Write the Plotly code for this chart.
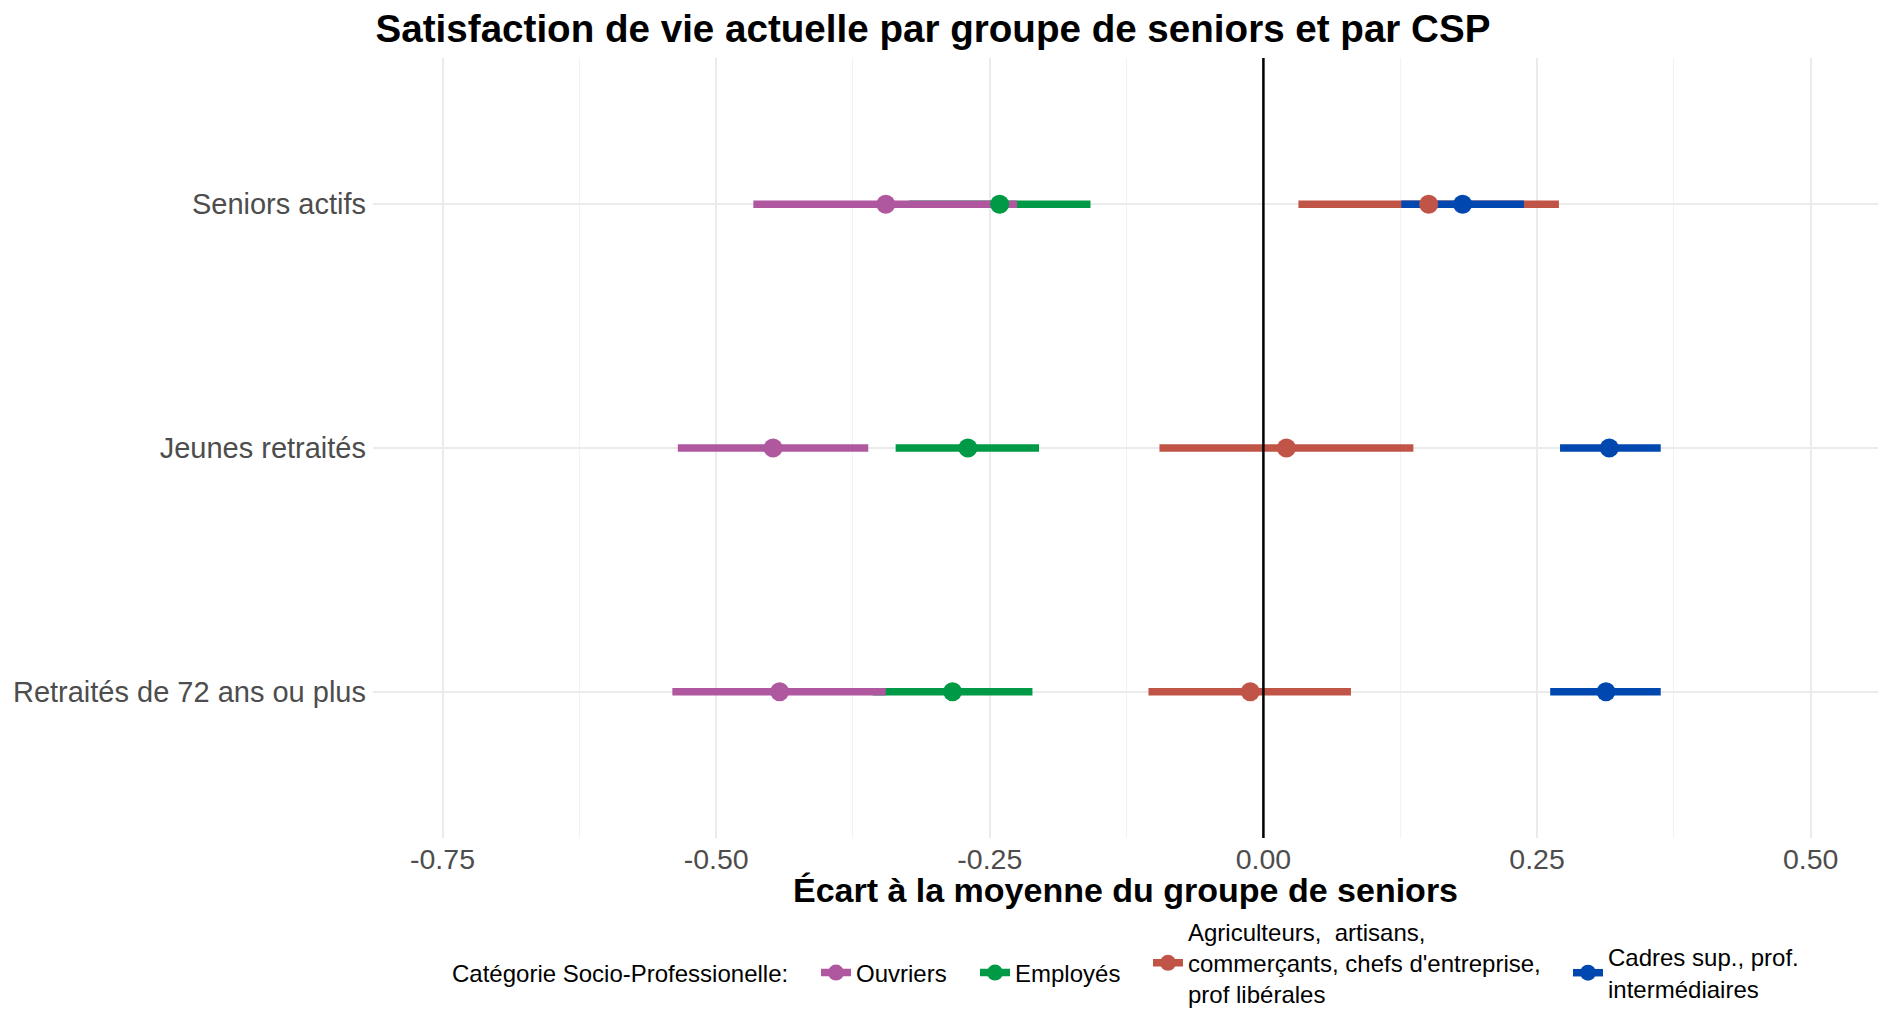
import plotly.graph_objects as go

# groupes de seniors (axe y)
groupes = ["Seniors actifs", "Jeunes retraités", "Retraités de 72 ans ou plus"]

# CSP, ordre de la légende
csp = [
    "Ouvriers",
    "Employés",
    "Agriculteurs,  artisans,<br>commerçants, chefs d'entreprise,<br>prof libérales",
    "Cadres sup., prof.<br>intermédiaires",
]
couleurs = ["#AF58A0", "#009A46", "#C05447", "#0048B0"]

# estimations et intervalles, un tableau par CSP (ordre des groupes ci-dessus)
ouvriers_est = [-0.345, -0.448, -0.442]
ouvriers_lo = [-0.466, -0.535, -0.540]
ouvriers_hi = [-0.225, -0.361, -0.345]

employes_est = [-0.241, -0.270, -0.284]
employes_lo = [-0.324, -0.336, -0.357]
employes_hi = [-0.158, -0.205, -0.211]

agri_est = [0.151, 0.021, -0.012]
agri_lo = [0.032, -0.095, -0.105]
agri_hi = [0.270, 0.137, 0.080]

cadres_est = [0.182, 0.316, 0.313]
cadres_lo = [0.126, 0.271, 0.262]
cadres_hi = [0.238, 0.363, 0.363]

series = [
    (ouvriers_est, ouvriers_lo, ouvriers_hi),
    (employes_est, employes_lo, employes_hi),
    (agri_est, agri_lo, agri_hi),
    (cadres_est, cadres_lo, cadres_hi),
]

FONT = "Liberation Sans, Arial, Helvetica, sans-serif"
W, H = 1880, 1003  # la page ajoute 8 px de marge autour de la figure

fig = go.Figure()

# segments d'abord (ordre de superposition comme l'original), puis les points
for i in [1, 2, 0, 3]:
    est, lo, hi = series[i]
    xs, ys = [], []
    for g, a, b in zip(groupes, lo, hi):
        xs += [a, b, None]
        ys += [g, g, None]
    fig.add_trace(go.Scatter(x=xs, y=ys, mode="lines",
                             line=dict(color=couleurs[i], width=7.7),
                             showlegend=False, hoverinfo="skip"))

for i in range(4):
    est, lo, hi = series[i]
    fig.add_trace(go.Scatter(x=est, y=groupes, mode="markers",
                             marker=dict(color=couleurs[i], size=19),
                             showlegend=False))

# entrées de légende : une légende par CSP pour les centrer verticalement
leg_names = ["legend", "legend2", "legend3", "legend4"]
leg_x = [808, 967, 1140, 1560]
leg_y = [965, 965, 955, 965]
for i in range(4):
    fig.add_trace(go.Scatter(x=[None], y=[None], mode="lines+markers", name=csp[i],
                             legend=leg_names[i],
                             line=dict(color=couleurs[i], width=7.5),
                             marker=dict(color=couleurs[i], size=18)))

fig.add_vline(x=0, line=dict(color="black", width=2.5), layer="above")

fig.add_annotation(text="Catégorie Socio-Professionelle:", xref="paper", yref="paper",
                   x=(442 - 365) / 1505, y=(830 - 965) / 780, xanchor="left", yanchor="middle",
                   showarrow=False, font=dict(size=24, color="black", family=FONT))

legend_common = dict(orientation="h", xref="container", yref="container",
                     xanchor="left", yanchor="middle",
                     valign="middle", font=dict(size=24, color="black", family=FONT),
                     bgcolor="rgba(0,0,0,0)")

fig.update_layout(
    width=W, height=H,
    paper_bgcolor="white", plot_bgcolor="white",
    margin=dict(l=365, r=10, t=50, b=173, autoexpand=False),
    font=dict(family=FONT, color="#4D4D4D", size=28),
    title=dict(text="<b>Satisfaction de vie actuelle par groupe de seniors et par CSP</b>",
               font=dict(size=38.6, color="black", family=FONT),
               x=925 / W, xref="container", xanchor="center",
               y=1 - 20 / H, yref="container", yanchor="middle"),
    xaxis=dict(range=[-0.8135, 0.5615], tickvals=[-0.75, -0.5, -0.25, 0, 0.25, 0.5],
               ticktext=["-0.75", "-0.50", "-0.25", "0.00", "0.25", "0.50"],
               showgrid=True, gridcolor="#EBEBEB", gridwidth=2,
               minor=dict(tickvals=[-0.625, -0.375, -0.125, 0.125, 0.375],
                          showgrid=True, gridcolor="#F2F2F2", gridwidth=1.2),
               zeroline=False, showline=False, ticks="", automargin=False,
               ticklabelstandoff=1,
               tickfont=dict(size=28.5, color="#4D4D4D"),
               title=dict(text="<b>Écart à la moyenne du groupe de seniors</b>",
                          font=dict(size=34, color="black"), standoff=5)),
    yaxis=dict(type="category", categoryorder="array",
               categoryarray=groupes[::-1], range=[-0.6, 2.6],
               showgrid=True, gridcolor="#EBEBEB", gridwidth=2,
               zeroline=False, showline=False, ticks="", automargin=False,
               ticklabelstandoff=6,
               tickfont=dict(size=29, color="#4D4D4D")),
)
for name, lx, ly in zip(leg_names, leg_x, leg_y):
    fig.update_layout({name: dict(legend_common, x=lx / W, y=1 - ly / H)})

fig.write_html("out.html")
